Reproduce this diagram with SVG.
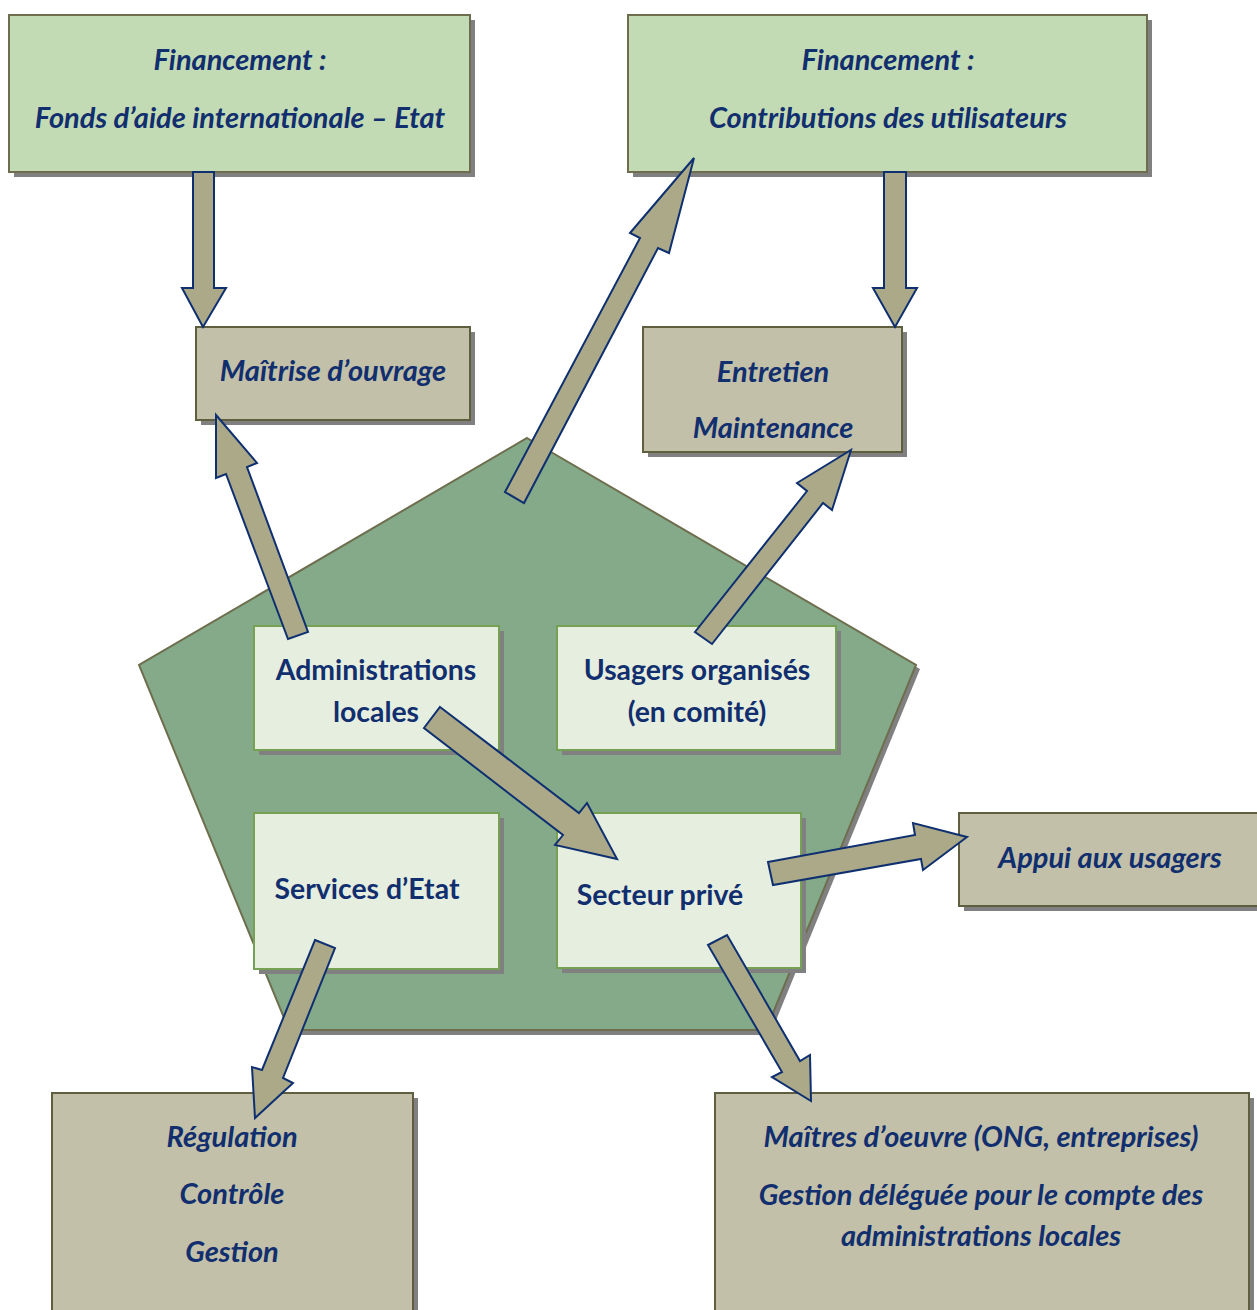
<svg xmlns="http://www.w3.org/2000/svg" width="1257" height="1310" viewBox="0 0 1257 1310">
  <style>
    .shadow { fill: #808080; }
    .fund { fill: #c3dbb4; stroke: #6e6e4e; stroke-width: 2; }
    .task { fill: #c2c0a8; stroke: #5f5f3f; stroke-width: 2; }
    .actor { fill: #e6eedf; stroke: #76a054; stroke-width: 2; }
    .core { fill: #84aa8a; stroke: #6e6e4e; stroke-width: 2; }
    .arrow { fill: #aca989; stroke: #0f3070; stroke-width: 2; stroke-linejoin: miter; }
    text { font-family: Lato, "Open Sans", "DejaVu Sans", sans-serif; fill: #112e6e; text-anchor: middle; font-weight: bold; }
    .it { font-style: italic; font-size: 29px; }
    .up { font-size: 28.4px; }
  </style>

  <rect width="1257" height="1310" fill="#ffffff"/>

  <!-- central pentagon -->
  <g id="core">
    <polygon class="shadow" points="531,442 920,669 770,1035 293,1035 143,669"/>
    <polygon class="core" points="527,438 916,665 766,1030 289,1030 139,665"/>
  </g>

  <!-- funding sources -->
  <g id="fund-intl">
    <rect class="shadow" x="14" y="20" width="461" height="157"/>
    <rect class="fund" x="9" y="15" width="461" height="157"/>
    <text class="it" x="240" y="70">Financement :</text>
    <text class="it" x="240" y="128">Fonds d’aide internationale – Etat</text>
  </g>
  <g id="fund-users">
    <rect class="shadow" x="633" y="20" width="519" height="157"/>
    <rect class="fund" x="628" y="15" width="519" height="157"/>
    <text class="it" x="888" y="70">Financement :</text>
    <text class="it" x="888" y="128">Contributions des utilisateurs</text>
  </g>

  <!-- functions -->
  <g id="maitrise">
    <rect class="shadow" x="201" y="332" width="274" height="93"/>
    <rect class="task" x="196" y="327" width="274" height="93"/>
    <text class="it" x="333" y="381">Maîtrise d’ouvrage</text>
  </g>
  <g id="entretien">
    <rect class="shadow" x="648" y="332" width="259" height="125"/>
    <rect class="task" x="643" y="327" width="259" height="125"/>
    <text class="it" x="773" y="382">Entretien</text>
    <text class="it" x="773" y="438">Maintenance</text>
  </g>
  <g id="appui">
    <rect class="shadow" x="964" y="818" width="300" height="93"/>
    <rect class="task" x="959" y="813" width="300" height="93"/>
    <text class="it" x="1110" y="868">Appui aux usagers</text>
  </g>
  <g id="regulation">
    <rect class="shadow" x="57" y="1098" width="361" height="230"/>
    <rect class="task" x="52" y="1093" width="361" height="230"/>
    <text class="it" x="232" y="1147">Régulation</text>
    <text class="it" x="232" y="1204">Contrôle</text>
    <text class="it" x="232" y="1262">Gestion</text>
  </g>
  <g id="maitres-oeuvre">
    <rect class="shadow" x="720" y="1098" width="534" height="230"/>
    <rect class="task" x="715" y="1093" width="534" height="230"/>
    <text class="it" x="981" y="1147">Maîtres d’oeuvre (ONG, entreprises)</text>
    <text class="it" x="981" y="1205">Gestion déléguée pour le compte des</text>
    <text class="it" x="981" y="1246">administrations locales</text>
  </g>

  <!-- actors inside the pentagon -->
  <g id="admin-locales">
    <rect class="shadow" x="259" y="631" width="245" height="124"/>
    <rect class="actor" x="254" y="626" width="245" height="124"/>
    <text class="up" x="376" y="680">Administrations</text>
    <text class="up" x="376" y="722">locales</text>
  </g>
  <g id="usagers">
    <rect class="shadow" x="562" y="631" width="279" height="124"/>
    <rect class="actor" x="557" y="626" width="279" height="124"/>
    <text class="up" x="697" y="680">Usagers organisés</text>
    <text class="up" x="697" y="722">(en comité)</text>
  </g>
  <g id="services-etat">
    <rect class="shadow" x="259" y="818" width="245" height="156"/>
    <rect class="actor" x="254" y="813" width="245" height="156"/>
    <text class="up" x="367" y="899">Services d’Etat</text>
  </g>
  <g id="secteur-prive">
    <rect class="shadow" x="562" y="818" width="244" height="155"/>
    <rect class="actor" x="557" y="813" width="244" height="155"/>
    <text class="up" x="660" y="905">Secteur privé</text>
  </g>

  <!-- block arrows -->
  <g id="connectors">
    <polygon class="arrow" points="193,172 214,172 214,288 226,288 203,327 182,288 193,288"/>
    <polygon class="arrow" points="884,172 906,172 906,288 917,288 895,327 873,288 884,288"/>
    <polygon class="arrow" points="505,492 640,238 630,233 694,158 669,253 658,248 524,503"/>
    <polygon class="arrow" points="216,415 257,463 247,467 308,632 288,639 226,474 216,478"/>
    <polygon class="arrow" points="851,450 832,510 823,503 712,644 695,632 807,491 797,483"/>
    <polygon class="arrow" points="440,707 579,813 587,803 617,859 555,845 563,835 424,728"/>
    <polygon class="arrow" points="768,862 915,835 913,823 967,837 923,870 921,859 773,885"/>
    <polygon class="arrow" points="315,940 335,948 283,1078 293,1083 255,1118 252,1067 262,1070"/>
    <polygon class="arrow" points="708,945 727,935 800,1061 810,1055 811,1101 772,1077 782,1072"/>
  </g>
</svg>
